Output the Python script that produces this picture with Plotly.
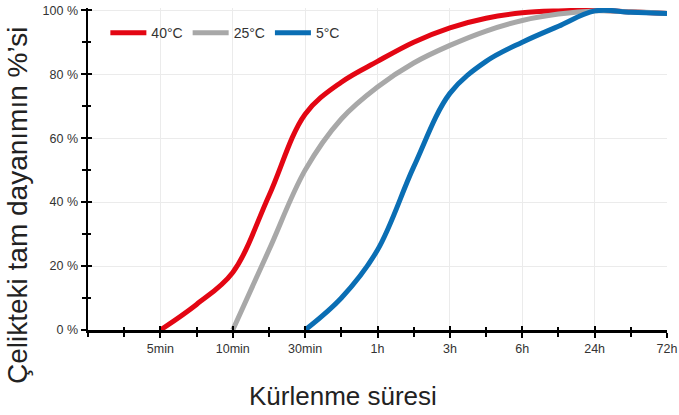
import plotly.graph_objects as go

# ---- data ----
tick_labels = ["5min", "10min", "30min", "1h", "3h", "6h", "24h", "72h"]
tick_pos = [1, 2, 3, 4, 5, 6, 7, 8]

x_40 = [1, 1.5, 2, 2.5, 3, 3.5, 4, 4.5, 5, 5.5, 6, 6.5, 7, 7.5, 8]
y_40 = [0, 8, 18, 42, 67.5, 77.5, 84, 90, 94.5, 97.5, 99.2, 99.8, 100, 99.5, 99]

x_25 = [2, 2.5, 3, 3.5, 4, 4.5, 5, 5.5, 6, 6.5, 7, 7.5, 8]
y_25 = [0, 25, 50, 66, 76, 83.5, 89, 93.5, 96.8, 98.8, 99.8, 99.5, 99]

x_5 = [3, 3.5, 4, 4.5, 5, 5.5, 6, 6.5, 7, 7.5, 8]
y_5 = [0, 10, 25, 51, 74, 84, 90, 95, 99.8, 99.4, 99]

series = [
    ("40°C", x_40, y_40, "#E30613"),
    ("25°C", x_25, y_25, "#A8A8A8"),
    ("5°C", x_5, y_5, "#0A6EB4"),
]

fig = go.Figure()
for name, xs, ys, col in series:
    fig.add_trace(go.Scatter(
        x=xs, y=ys, name=name, mode="lines",
        line=dict(color=col, width=5, shape="spline", smoothing=1.0),
    ))

# dummy trace for overlay axes (inside ticks)
fig.add_trace(go.Scatter(x=[], y=[], xaxis="x2", yaxis="y2", showlegend=False))

font_family = "Liberation Sans, Arial, sans-serif"
tick_font = dict(family=font_family, size=12.5, color="#333333")
Y_MAX = 100.7

fig.update_layout(
    width=679, height=415,
    margin=dict(l=88, r=12, t=8, b=85, autoexpand=False),
    paper_bgcolor="white", plot_bgcolor="white",
    font=dict(family=font_family, color="#222222"),
    showlegend=True,
    legend=dict(
        orientation="h", x=0.03, y=0.922, xanchor="left", yanchor="middle",
        font=dict(family=font_family, size=14, color="#333333"),
        bgcolor="rgba(0,0,0,0)", itemwidth=36, tracegroupgap=0,
    ),
    xaxis=dict(
        range=[0, 8], tickvals=tick_pos, ticktext=tick_labels,
        showgrid=True, gridcolor="#EBEBEB", gridwidth=1,
        showline=True, linecolor="black", linewidth=2.5,
        ticks="outside", ticklen=5, tickwidth=2, tickcolor="black",
        minor=dict(ticks="outside", dtick=0.5, tick0=0, ticklen=4, tickwidth=2,
                   tickcolor="black", showgrid=False),
        tickfont=tick_font, zeroline=False, fixedrange=True, automargin=False,
    ),
    yaxis=dict(
        range=[0, Y_MAX], tickvals=[0, 20, 40, 60, 80, 100],
        ticktext=["0 %", "20 %", "40 %", "60 %", "80 %", "100 %"],
        showgrid=True, gridcolor="#EBEBEB", gridwidth=1,
        showline=True, linecolor="black", linewidth=2.5,
        ticks="outside", ticklen=5, tickwidth=2, tickcolor="black",
        minor=dict(ticks="outside", dtick=10, tick0=0, ticklen=4, tickwidth=2,
                   tickcolor="black", showgrid=False),
        tickfont=tick_font, zeroline=False, fixedrange=True, automargin=False,
    ),
    xaxis2=dict(
        overlaying="x", anchor="y2", range=[0, 8], tickvals=tick_pos,
        showticklabels=False, showgrid=False, showline=False, zeroline=False,
        ticks="inside", ticklen=4, tickwidth=2, tickcolor="black", automargin=False,
        minor=dict(ticks="inside", dtick=0.5, tick0=0, ticklen=3, tickwidth=2,
                   tickcolor="black", showgrid=False),
    ),
    yaxis2=dict(
        overlaying="y", anchor="x2", range=[0, Y_MAX], tickvals=[0, 20, 40, 60, 80, 100],
        showticklabels=False, showgrid=False, showline=False, zeroline=False,
        ticks="inside", ticklen=4, tickwidth=2, tickcolor="black", automargin=False,
        minor=dict(ticks="inside", dtick=10, tick0=0, ticklen=3, tickwidth=2,
                   tickcolor="black", showgrid=False),
    ),
    annotations=[
        dict(text="Çelikteki tam dayanımın %’si", textangle=-90,
             xref="paper", yref="paper", x=-0.1226, y=0.385,
             xanchor="center", yanchor="middle", showarrow=False,
             font=dict(family=font_family, size=28, color="#222222")),
        dict(text="Kürlenme süresi",
             xref="paper", yref="paper", x=0.4404, y=-0.205,
             xanchor="center", yanchor="middle", showarrow=False,
             font=dict(family=font_family, size=26, color="#222222")),
    ],
)

fig.write_html(
    "out.html",
    config={"displayModeBar": False, "staticPlot": True},
    post_script="document.body.style.margin='0';document.body.style.padding='0';",
)
